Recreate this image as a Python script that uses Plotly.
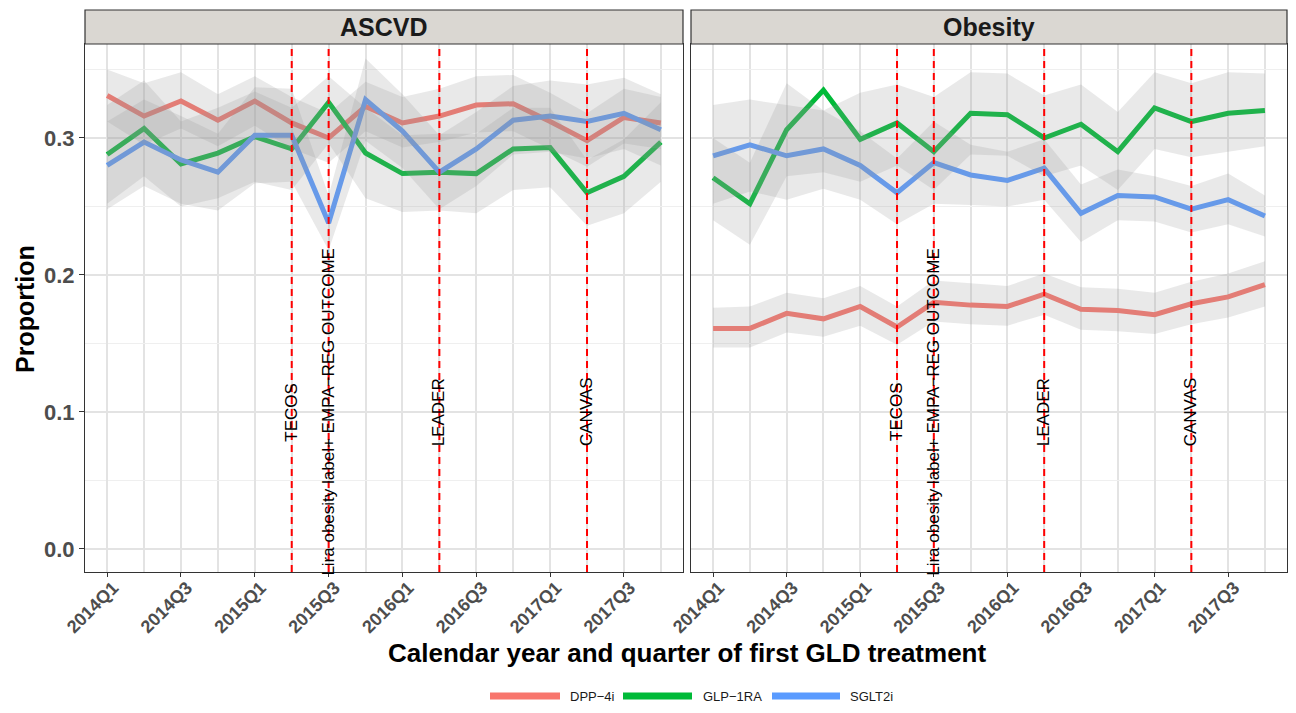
import plotly.graph_objects as go

quarters = ["2014Q1", "2014Q2", "2014Q3", "2014Q4", "2015Q1", "2015Q2", "2015Q3", "2015Q4",
            "2016Q1", "2016Q2", "2016Q3", "2016Q4", "2017Q1", "2017Q2", "2017Q3", "2017Q4"]
panels = ["ASCVD", "Obesity"]
drugs = ["DPP−4i", "GLP−1RA", "SGLT2i"]
drug_colors = ["#F8766D", "#00BA38", "#5A9BFF"]

# ASCVD
ascvd_dpp = [0.331, 0.316, 0.327, 0.313, 0.327, 0.311, 0.300, 0.323, 0.311, 0.316, 0.324, 0.325, 0.312, 0.298, 0.315, 0.311]
ascvd_dpp_lo = [0.312, 0.295, 0.307, 0.294, 0.309, 0.292, 0.282, 0.305, 0.293, 0.297, 0.304, 0.305, 0.292, 0.279, 0.296, 0.292]
ascvd_dpp_hi = [0.350, 0.340, 0.348, 0.332, 0.345, 0.330, 0.318, 0.341, 0.330, 0.336, 0.345, 0.346, 0.333, 0.318, 0.336, 0.330]
ascvd_glp = [0.288, 0.307, 0.281, 0.289, 0.301, 0.292, 0.326, 0.289, 0.274, 0.275, 0.274, 0.292, 0.293, 0.260, 0.272, 0.297]
ascvd_glp_lo = [0.252, 0.272, 0.250, 0.256, 0.268, 0.262, 0.296, 0.256, 0.246, 0.247, 0.245, 0.262, 0.264, 0.236, 0.245, 0.268]
ascvd_glp_hi = [0.324, 0.342, 0.312, 0.322, 0.334, 0.322, 0.345, 0.322, 0.302, 0.303, 0.303, 0.322, 0.322, 0.284, 0.299, 0.326]
ascvd_sglt = [0.280, 0.297, 0.284, 0.275, 0.302, 0.302, 0.238, 0.328, 0.305, 0.275, 0.292, 0.313, 0.316, 0.312, 0.318, 0.306]
ascvd_sglt_lo = [0.248, 0.265, 0.252, 0.247, 0.267, 0.268, 0.218, 0.298, 0.278, 0.248, 0.265, 0.288, 0.290, 0.285, 0.292, 0.280]
ascvd_sglt_hi = [0.312, 0.328, 0.316, 0.303, 0.337, 0.336, 0.258, 0.358, 0.332, 0.302, 0.319, 0.338, 0.342, 0.339, 0.344, 0.332]

# Obesity
obes_dpp = [0.161, 0.161, 0.172, 0.168, 0.177, 0.162, 0.180, 0.178, 0.177, 0.186, 0.175, 0.174, 0.171, 0.179, 0.184, 0.193]
obes_dpp_lo = [0.147, 0.147, 0.158, 0.155, 0.163, 0.149, 0.166, 0.164, 0.163, 0.171, 0.160, 0.159, 0.157, 0.164, 0.169, 0.177]
obes_dpp_hi = [0.176, 0.177, 0.187, 0.183, 0.192, 0.177, 0.196, 0.194, 0.192, 0.201, 0.191, 0.190, 0.187, 0.195, 0.201, 0.210]
obes_glp = [0.271, 0.252, 0.306, 0.335, 0.299, 0.311, 0.290, 0.318, 0.317, 0.300, 0.310, 0.290, 0.322, 0.312, 0.318, 0.320]
obes_glp_lo = [0.240, 0.222, 0.272, 0.275, 0.268, 0.280, 0.262, 0.288, 0.287, 0.272, 0.280, 0.262, 0.292, 0.286, 0.290, 0.294]
obes_glp_hi = [0.300, 0.282, 0.340, 0.320, 0.333, 0.339, 0.330, 0.348, 0.347, 0.331, 0.339, 0.319, 0.348, 0.340, 0.348, 0.347]
obes_sglt = [0.287, 0.295, 0.287, 0.292, 0.280, 0.260, 0.282, 0.273, 0.269, 0.278, 0.245, 0.258, 0.257, 0.248, 0.255, 0.243]
obes_sglt_lo = [0.252, 0.261, 0.255, 0.263, 0.255, 0.237, 0.252, 0.251, 0.250, 0.255, 0.224, 0.240, 0.239, 0.231, 0.237, 0.228]
obes_sglt_hi = [0.324, 0.328, 0.324, 0.320, 0.305, 0.285, 0.312, 0.295, 0.290, 0.299, 0.266, 0.277, 0.272, 0.265, 0.274, 0.258]

event_labels = ["TECOS", "Lira obesity label+ EMPA−REG OUTCOME", "LEADER", "CANVAS"]
event_quarters = ["2015Q2", "2015Q3", "2016Q2", "2017Q2"]
tick_labels = ["2014Q1", "2014Q3", "2015Q1", "2015Q3", "2016Q1", "2016Q3", "2017Q1", "2017Q3"]

series = {
    "ASCVD": [(ascvd_dpp, ascvd_dpp_lo, ascvd_dpp_hi), (ascvd_glp, ascvd_glp_lo, ascvd_glp_hi),
              (ascvd_sglt, ascvd_sglt_lo, ascvd_sglt_hi)],
    "Obesity": [(obes_dpp, obes_dpp_lo, obes_dpp_hi), (obes_glp, obes_glp_lo, obes_glp_hi),
                (obes_sglt, obes_sglt_lo, obes_sglt_hi)],
}

# page body has an 8px margin: figure is sized to fit the window and offsets compensated
OFF = 8
W, H = 1296 - 2 * OFF, 713 - 2 * OFF
FONT = "Arial, Liberation Sans, sans-serif"
idx = list(range(len(quarters)))

def px(x):
    return (x - OFF) / W

def py(y):
    return 1 - (y - OFF) / H

fig = go.Figure()
axes = [("x", "y"), ("x2", "y2")]
for p, (xa, ya) in zip(panels, axes):
    for d, col, (v, lo, hi) in zip(drugs, drug_colors, series[p]):
        fig.add_trace(go.Scatter(x=idx, y=v, mode="lines", line=dict(color=col, width=5),
                                 xaxis=xa, yaxis=ya, showlegend=False, name=d))
    for d, (v, lo, hi) in zip(drugs, series[p]):
        fig.add_trace(go.Scatter(x=idx + idx[::-1], y=hi + lo[::-1], fill="toself",
                                 fillcolor="rgba(150,150,150,0.21)", line=dict(width=0),
                                 mode="lines", xaxis=xa, yaxis=ya, showlegend=False,
                                 hoverinfo="skip"))

left = (85, 683)
right = (691, 1287)
top, bottom = 44, 572
grid_major = "#E3E3E3"
grid_minor = "#EFEFEF"

tickvals = [quarters.index(t) for t in tick_labels]
minor_vals = [i for i in idx if i not in tickvals]

def xaxis_cfg(dom):
    return dict(domain=[px(dom[0]), px(dom[1])], range=[-0.6, 15.6], automargin=False,
                tickmode="array", tickvals=tickvals, ticktext=tick_labels,
                tickangle=-45, ticks="outside", ticklen=4, tickcolor="#333333",
                ticklabelshift=6, ticklabelstandoff=-7,
                tickfont=dict(family=FONT, size=18, color="#4D4D4D", weight="bold"),
                showline=True, mirror=True, linecolor="#333333", linewidth=1.2,
                showgrid=True, gridcolor=grid_major, gridwidth=1.5, zeroline=False,
                minor=dict(tickvals=minor_vals, showgrid=True, gridcolor=grid_major,
                           gridwidth=1.5, ticks=""))

def yaxis_cfg(show):
    return dict(domain=[py(bottom), py(top)], range=[-0.0168, 0.3686], automargin=False,
                tickmode="array", tickvals=[0, 0.1, 0.2, 0.3],
                ticktext=["0.0", "0.1", "0.2", "0.3"],
                showticklabels=show, ticks="outside" if show else "", ticklen=5,
                tickcolor="#333333",
                tickfont=dict(family=FONT, size=22, color="#4D4D4D", weight="bold"),
                showline=True, mirror=True, linecolor="#333333", linewidth=1.2,
                showgrid=True, gridcolor=grid_major, gridwidth=1.5, zeroline=False,
                minor=dict(tickvals=[0.05, 0.15, 0.25, 0.35], showgrid=True,
                           gridcolor=grid_minor, gridwidth=1, ticks=""))

fig.update_layout(
    width=W, height=H, autosize=False,
    margin=dict(l=0, r=0, t=0, b=0, autoexpand=False),
    paper_bgcolor="white", plot_bgcolor="white",
    xaxis=dict(anchor="y", **xaxis_cfg(left)),
    xaxis2=dict(anchor="y2", **xaxis_cfg(right)),
    yaxis=dict(anchor="x", **yaxis_cfg(True)),
    yaxis2=dict(anchor="x2", matches="y", **yaxis_cfg(False)),
    showlegend=False,
)

shapes = []
annotations = []
for p, (xa, ya), dom in zip(panels, axes, [left, right]):
    shapes.append(dict(type="rect", xref="paper", yref="paper",
                       x0=px(dom[0]), x1=px(dom[1]), y0=py(top), y1=py(10),
                       fillcolor="#DAD7D2", line=dict(color="#333333", width=1.2), layer="above"))
    annotations.append(dict(text="<b>" + p + "</b>", xref="paper", yref="paper",
                            x=px((dom[0] + dom[1]) / 2), y=py(27), xanchor="center",
                            yanchor="middle", showarrow=False,
                            font=dict(family=FONT, size=25, color="#1A1A1A")))
    for lab, q in zip(event_labels, event_quarters):
        xi = quarters.index(q)
        shapes.append(dict(type="line", xref=xa, yref=ya + " domain", x0=xi, x1=xi, y0=0, y1=1,
                           line=dict(color="#FF0000", width=2, dash="7px,5px"), layer="above"))
        annotations.append(dict(text=lab, xref=xa, yref=ya, x=xi, y=0.1, textangle=-90,
                                xanchor="center", yanchor="middle",
                                showarrow=False, font=dict(family=FONT, size=17, color="black")))

annotations.append(dict(text="<b>Proportion</b>", xref="paper", yref="paper", x=px(25), y=py(309),
                        textangle=-90, xanchor="center", yanchor="middle", showarrow=False,
                        font=dict(family=FONT, size=25, color="black")))
annotations.append(dict(text="<b>Calendar year and quarter of first GLD treatment</b>", xref="paper",
                        yref="paper", x=px(687), y=py(653), xanchor="center", yanchor="middle",
                        showarrow=False, font=dict(family=FONT, size=26, color="black")))

LEG_Y = 696
legend_items = [(490, 560, 568), (623, 692, 701), (772, 840, 848)]
for (x0, x1, tx), d, col in zip(legend_items, drugs, drug_colors):
    shapes.append(dict(type="line", xref="paper", yref="paper", x0=px(x0), x1=px(x1),
                       y0=py(LEG_Y), y1=py(LEG_Y), line=dict(color=col, width=7)))
    annotations.append(dict(text=d, xref="paper", yref="paper", x=px(tx), y=py(LEG_Y),
                            xanchor="left", yanchor="middle", showarrow=False,
                            font=dict(family=FONT, size=13, color="#1A1A1A")))

fig.update_layout(shapes=shapes, annotations=annotations)
fig.write_html("out.html")
